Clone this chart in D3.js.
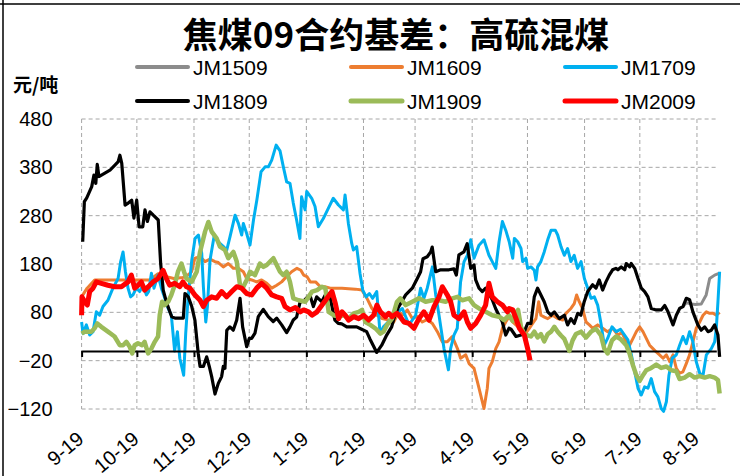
<!DOCTYPE html>
<html><head><meta charset="utf-8">
<script src="https://cdn.jsdelivr.net/npm/d3@7"></script>
<style>body{margin:0;background:#fff}svg{display:block}</style>
</head><body>
<svg id="chart" width="740" height="476"></svg>
<script>
// ---------- data ----------
const startDate = Date.UTC(2018, 8, 1); // first day of the axis
const tickLabels = ["9-19","10-19","11-19","12-19","1-19","2-19","3-19","4-19","5-19","6-19","7-19","8-19"];
const yTicks = [480, 380, 280, 180, 80, -20, -120];
const seriesNames = ["JM1509","JM1609","JM1709","JM1809","JM1909","JM2009"];
const seriesColors = ["#8C8C8C","#ED7D31","#00B0F0","#000000","#9BBB59","#FF0000"];
const seriesWidths = [3, 3, 3, 3.2, 4.5, 5];

// [day since start, basis (元/吨)]
const jm1509 = [[326.4,92],[328.2,100],[330,98],[333,96],[336.3,97],[339,116],[340.9,150],[343.6,157],[346.3,161]];
const jm1609 = [[0,112],[3,130],[7.1,147],[20,147],[37,147],[41.5,160],[45,155],[50,150],[55,152],[58,158],[59.7,164],[61.5,192],[64.3,195],[67,185],[69.7,190],[72.4,185],[74.2,183],[76.9,174],[79.6,181],[82.4,171],[85,171],[87.8,164],[89.6,150],[92.3,147],[95,143],[97.7,147],[100.5,140],[103.2,130],[105.9,136],[108.6,143],[111.3,154],[114,164],[116.9,171],[119,167],[120.5,157],[122.3,154],[124.1,143],[127,143],[129.6,133],[132,133],[135,130],[141.3,130],[148.6,128],[152.2,126],[154.9,109],[157.6,88],[160.3,74],[163.1,67],[166.7,64],[169.4,60],[172.3,81],[174.5,75],[176.8,85],[179.5,67],[182,72],[184.9,60],[187.5,65],[190.4,57],[193.1,40],[195.8,19],[198.5,19],[201.2,30],[204,5],[205.7,-15],[208.5,-8],[210.3,-26],[213,-36],[215.7,-77],[218.4,-119],[220.2,-77],[221.1,-36],[222.9,-22],[224.8,5],[226.6,19],[228.4,47],[230.2,60],[232,71],[234,60],[237.6,47],[240.3,33],[243,47],[244.8,57],[246.6,67],[248.1,102],[249.3,74],[251.2,70],[253,67],[255.7,74],[258.4,67],[261.1,64],[262.9,78],[265.6,88],[267.4,98],[268.7,116],[270.1,102],[271.9,88],[273.8,60],[275.6,54],[277.4,47],[280.1,54],[282.8,47],[285.5,40],[288.3,47],[291.1,33],[293.3,38],[295.6,19],[297.4,12],[299.3,26],[301.1,40],[302.9,50],[304.7,40],[306.5,26],[308.3,12],[310.1,5],[311.9,-2],[313.7,-8],[315.6,-15],[317.4,-8],[319.2,-22],[321,-8],[322.8,-36],[324.6,-46],[326.4,-43],[328.2,-26],[330,-8],[331.8,19],[333.6,47],[335.5,60],[337.3,74],[339.1,81],[340.9,78],[342.7,78],[344.5,74],[346.3,80]];
const jm1709 = [[0,60],[0.8,36],[2.6,54],[4.4,33],[6.2,40],[8,81],[9.8,74],[11.6,92],[14.3,105],[17,130],[19.8,150],[21.2,185],[22.5,205],[23.8,164],[25.2,130],[26.6,112],[27.9,116],[29.7,130],[31.5,123],[33.3,136],[35.2,116],[36.4,123],[37.9,161],[39.3,130],[41.5,157],[43.3,130],[45.1,110],[47,88],[48.7,74],[50.5,0],[52,40],[53.3,-15],[55.4,-50],[56.5,36],[57.8,110],[59.8,188],[61.6,233],[63.4,240],[65.2,202],[66.1,133],[67.4,60],[68.3,92],[69.7,188],[71.9,237],[74.2,226],[77,216],[78.8,209],[80.6,237],[83.3,281],[85.1,264],[86.9,240],[87.8,264],[89.6,243],[91.4,219],[93.3,271],[95.1,312],[97.4,371],[99.6,381],[101.4,381],[103.2,395],[105.6,426],[107.7,414],[109.5,381],[111.3,350],[113.1,347],[114.9,306],[116.7,271],[118.5,233],[119.4,319],[121.3,292],[122.2,330],[124.9,316],[126.7,299],[128.5,257],[131.2,274],[133.9,295],[136.6,316],[139.4,302],[142.1,292],[143,323],[144.8,264],[146.6,223],[147.5,209],[149.3,216],[151.1,161],[152.6,126],[154.4,112],[156.2,119],[158,109],[160.2,123],[162,36],[163.8,50],[165.6,57],[167.4,64],[169.2,71],[171.9,81],[174.1,88],[177.7,54],[181.3,74],[184,130],[185.8,109],[187.6,130],[190.4,174],[192.2,116],[194,74],[196.7,5],[199.1,-39],[200.3,5],[202.1,33],[203.9,47],[205.7,143],[207.6,185],[209.4,198],[211.2,230],[213,192],[215.7,219],[218.4,230],[221.1,198],[222.9,185],[224.8,171],[226.6,226],[228.4,268],[230.2,250],[232.1,226],[234,192],[234.9,233],[236.7,226],[238.5,212],[239.4,185],[241.2,192],[242.1,171],[243.9,174],[245.7,167],[246.6,147],[247.5,174],[249.3,185],[251.1,205],[253,230],[254.8,250],[257.1,250],[258.4,240],[260.2,216],[262,198],[263.8,212],[265.6,185],[267.4,198],[269.2,171],[271.1,185],[272.9,150],[274.7,130],[276.5,109],[278.3,112],[280.1,95],[281.9,57],[283.7,12],[285.5,26],[287.9,50],[290.2,40],[292.5,45],[294.7,33],[296.5,23],[298.4,-8],[300.2,-43],[302,-77],[303.8,-91],[305.6,-74],[307.4,-77],[309.2,-57],[311,-84],[312.8,-95],[314.6,-119],[315.9,-125],[317.4,-105],[318.8,-50],[320.6,-15],[322.8,-8],[324.6,12],[326.4,30],[328.2,15],[330,40],[331.8,19],[333.6,-22],[335.5,-46],[337.3,-50],[339.1,-8],[341.8,5],[343.6,19],[344.5,47],[345.4,102],[346.3,164]];
const jm1809 = [[0.6,226],[1.5,309],[2.8,317],[5.5,340],[6.7,364],[7.7,347],[8.5,386],[9.4,361],[15.4,374],[19.9,392],[20.8,405],[21.8,388],[23.6,302],[25.3,306],[27.2,312],[28.4,275],[29.9,312],[31.2,257],[33.2,257],[34.4,292],[35.7,268],[37.1,288],[38.9,281],[41.6,271],[42.9,181],[44.3,126],[46.2,99],[48.9,71],[50.7,68],[55.2,68],[56.1,119],[57.9,112],[59.8,92],[61.5,64],[63.3,-5],[64.3,-32],[66.1,-32],[67.9,-12],[69.3,-32],[70.6,-53],[72.4,-89],[74.2,-67],[76,-53],[76.9,-32],[77.8,-36],[78.8,43],[80.5,50],[82.3,43],[84.2,64],[86,109],[87.4,50],[89.6,9],[91,26],[92.3,26],[94.1,37],[95.9,71],[98.6,86],[101.3,71],[104,61],[105.9,68],[108.6,54],[111.3,38],[113.1,50],[114.9,64],[116.7,70],[118.5,100],[121.2,106],[123.9,116],[125.8,92],[127.6,112],[130.3,102],[133,121],[134.8,112],[136.3,85],[137.5,64],[139.3,57],[141.2,56],[143.9,50],[149.3,50],[152,45],[154.7,40],[156.5,25],[160.2,-3],[162.9,12],[165.6,33],[168.3,50],[170.1,75],[171.9,90],[175.9,116],[179.5,130],[182.2,150],[184,164],[185.3,191],[187.6,195],[189.5,205],[190.3,215],[192.2,164],[194.9,168],[199.4,168],[202.1,170],[203.4,157],[204.8,199],[207.5,205],[209.3,222],[211.2,171],[213,178],[213.9,147],[215.7,130],[217.5,123],[219.3,130],[221.1,119],[222.9,106],[224.7,88],[226.5,74],[228.3,61],[230.2,33],[232,47],[233.1,45],[235.8,30],[238.5,33],[240.3,40],[242.1,57],[243.9,57],[245.7,112],[247.5,130],[249.3,116],[251.1,102],[253,81],[254.8,74],[256.6,81],[259.3,67],[262,74],[263.8,54],[265.6,67],[267.4,57],[269.3,78],[271,74],[272.8,102],[274.7,123],[277.4,137],[279.2,130],[281,147],[282.8,126],[284.6,143],[286.4,157],[288.2,168],[290,171],[291.1,168],[292.9,174],[294.8,168],[295.6,181],[297.5,174],[298.3,181],[300.2,171],[302,150],[303.8,130],[305.6,123],[307.4,112],[309.2,88],[311.9,85],[314.6,85],[316.5,94],[318.3,81],[321,54],[322.8,74],[324.6,88],[326.4,92],[328.2,109],[330,106],[331.8,81],[334.5,54],[336.3,43],[338.2,50],[340,40],[341.8,43],[343.6,54],[345.4,33],[346.3,-12]];
const jm1909 = [[0,36],[1.7,40],[5.3,40],[7.1,47],[8.5,57],[10.7,50],[14.3,40],[17.9,30],[20.7,12],[22.5,12],[24.3,19],[26.1,9],[27.5,-5],[28.8,12],[30.6,16],[32.8,12],[34.2,19],[36.1,-5],[37.9,5],[39.7,19],[41.5,30],[42.4,74],[43.7,102],[45.1,95],[47,102],[48.7,116],[50.5,136],[52.3,164],[54.2,181],[55.6,164],[56.9,150],[59.7,143],[62.5,164],[64.3,205],[67,247],[68.8,267],[70.6,247],[73.3,233],[75.1,216],[77.8,209],[79.6,192],[82.4,205],[84.2,185],[86,136],[87.8,133],[89.6,147],[91.4,164],[94.1,157],[96.8,181],[98.7,174],[100.5,178],[102.3,185],[104.1,192],[105.9,178],[107.7,164],[109.5,157],[111.3,164],[113.1,143],[114.9,109],[117.8,105],[121.4,102],[123.2,112],[125.1,123],[127.8,126],[130.5,133],[132.3,130],[134.1,81],[136.8,74],[139.5,71],[142.2,74],[145,67],[147.7,78],[150.4,81],[152.2,85],[154,60],[156.7,54],[159.4,47],[162.2,36],[163.9,40],[165.8,54],[168.5,67],[171.2,102],[173,109],[175.9,95],[179.5,102],[183.1,109],[186.7,102],[190.4,105],[194,105],[197.6,102],[201.2,109],[204,112],[206.6,105],[210.3,109],[213,95],[215.7,88],[219.3,81],[222.9,74],[226.6,71],[229.3,64],[232,74],[234,62],[235.8,80],[236.9,85],[238.5,50],[240.3,35],[243.9,30],[245.7,40],[247.5,28],[249.3,35],[251.1,20],[253,35],[254.8,40],[256.6,50],[258.4,40],[260.2,32],[262,25],[264.7,0],[266.5,22],[268.3,35],[271.1,40],[273.8,28],[276.5,40],[279.2,46],[281.9,32],[283.7,5],[285.5,-5],[287.9,22],[290.1,30],[292.5,25],[295.6,12],[297.4,-5],[299.3,-30],[301.1,-50],[302.9,-62],[304.7,-50],[306.5,-40],[309.2,-35],[311.9,-28],[314.6,-35],[317.4,-32],[320.1,-40],[322.8,-42],[324.6,-58],[327.3,-55],[330,-48],[332.7,-55],[335.4,-52],[338.2,-55],[340.9,-52],[343.6,-55],[345.4,-60],[346.3,-88]];
const jm2009 = [[0,74],[0.2,112],[1.7,102],[3.1,95],[4.4,123],[6.2,130],[8,143],[10.7,140],[14.3,136],[17.9,133],[21.6,133],[25.2,143],[27,157],[28.8,130],[30.6,136],[32.4,143],[34.2,126],[37,136],[38.8,143],[41.5,150],[44.2,167],[46,150],[47.8,136],[50.5,140],[53.3,133],[55,143],[56.9,133],[58.8,130],[61.5,116],[64.3,105],[66.1,92],[67.9,105],[70.6,112],[73.3,109],[76,123],[78.7,112],[81.5,123],[84.2,133],[86.9,130],[89.6,119],[92.3,116],[95,130],[97.7,140],[100.5,130],[103.2,116],[105.9,112],[108.6,109],[110.4,92],[113.1,85],[116,90],[118.7,81],[120.5,85],[123.2,81],[125.1,74],[127.8,81],[130.5,95],[133.2,109],[135.9,123],[137.7,99],[139.5,67],[141.3,81],[143.1,74],[144.9,64],[147.7,71],[150.4,67],[153.1,74],[155.8,64],[158.5,74],[160.3,95],[162.2,81],[164.9,71],[166.7,78],[168.5,71],[171.2,78],[172.3,74],[175,60],[177.7,57],[180.4,47],[183.1,67],[185.8,81],[188.6,64],[191.3,92],[194,112],[195.8,133],[198.5,116],[200.3,102],[202.1,74],[204.8,67],[207.6,81],[209.4,60],[211.2,47],[213.9,57],[216.6,74],[219.3,95],[221.1,140],[222.9,112],[225.7,102],[228.4,95],[231.1,81],[232.1,88],[234,85],[235.8,67],[237.6,47],[240.3,33],[242.1,5],[243.4,-19]];
const seriesData = [jm1509, jm1609, jm1709, jm1809, jm1909, jm2009];

// ---------- chart ----------
const svg = d3.select("#chart");
const toDate = d => new Date(startDate + d * 864e5);
const endDate = toDate(344.5);
const x = d3.scaleUtc().domain([toDate(0), endDate]).range([81.6, 716.3]);
const y = d3.scaleLinear().domain([-120, 480]).range([409, 119]);
const monthDates = d3.utcMonth.range(toDate(0), endDate);

// frame
svg.append("path").attr("d", "M0,4H740M3,0V476").attr("stroke", "#000").attr("stroke-width", 1.5).attr("fill", "none");

// title
svg.append("text").attr("x", 396).attr("y", 48).attr("text-anchor", "middle")
  .attr("font-family", "'Noto Sans CJK SC', sans-serif").attr("font-weight", 700).attr("font-size", 35)
  .text("焦煤09合约基差：高硫混煤");

// unit
svg.append("text").attr("x", 13).attr("y", 92)
  .attr("font-family", "'Noto Sans CJK SC', sans-serif").attr("font-weight", 700).attr("font-size", 19)
  .text("元/吨");

// grid
const grid = svg.append("g").attr("stroke", "#A6A6A6").attr("stroke-width", 1).attr("stroke-dasharray", "4,3").attr("fill", "none");
grid.selectAll("line.h").data(yTicks).join("line").attr("class", "h")
  .attr("x1", x.range()[0]).attr("x2", x.range()[1]).attr("y1", d => y(d)).attr("y2", d => y(d));
grid.selectAll("line.v").data(monthDates).join("line").attr("class", "v")
  .attr("x1", d => x(d)).attr("x2", d => x(d)).attr("y1", y(480)).attr("y2", y(-120));

// y axis labels
const yAxis = svg.append("g").attr("transform", `translate(${x.range()[0]},0)`)
  .call(d3.axisLeft(y).tickValues(yTicks).tickSize(0).tickPadding(29).tickFormat(d => d < 0 ? "\u2212" + Math.abs(d) : d));
yAxis.select(".domain").remove();
yAxis.selectAll("text").attr("font-family", "'Liberation Sans', Arial, sans-serif").attr("font-size", 20).attr("fill", "#000");

// series lines
const line = d3.line().x(d => x(toDate(d[0]))).y(d => y(d[1]));
seriesData.forEach((s, i) => {
  if (i === 3) drawZeroAxis();
  svg.append("path").datum(s).attr("d", line).attr("fill", "none")
    .attr("stroke", seriesColors[i]).attr("stroke-width", seriesWidths[i])
    .attr("stroke-linejoin", "round").attr("stroke-linecap", "butt");
});

function drawZeroAxis() {
  const ax = svg.append("g").attr("transform", `translate(0,${y(0)})`)
    .call(d3.axisBottom(x).tickValues(monthDates).tickSize(6).tickSizeOuter(0).tickFormat(""));
  ax.select(".domain").attr("stroke", "#000").attr("stroke-width", 2);
  ax.selectAll(".tick line").attr("stroke", "#000").attr("stroke-width", 2);
}

// x labels (bottom)
const xl = svg.append("g").attr("transform", `translate(0,${y(-120)})`)
  .call(d3.axisBottom(x).tickValues(monthDates).tickSize(0).tickFormat((d, i) => tickLabels[i]));
xl.select(".domain").remove();
xl.selectAll("text")
  .attr("font-family", "'Liberation Sans Narrow', 'Arial Narrow', 'Liberation Sans', sans-serif")
  .attr("font-size", 20).attr("fill", "#000")
  .attr("text-anchor", "end").attr("dy", null).attr("y", 0)
  .attr("transform", "translate(3,32) rotate(-40)");

// legend
const legendPos = [[137, 67], [351, 67], [565, 67], [137, 101], [351, 101], [565, 101]];
const lg = svg.append("g");
seriesNames.forEach((n, i) => {
  const [lx, ly] = legendPos[i];
  lg.append("line").attr("x1", lx).attr("x2", lx + 51).attr("y1", ly).attr("y2", ly)
    .attr("stroke", seriesColors[i]).attr("stroke-width", i >= 4 ? 5 : 4).attr("stroke-linecap", "round");
  lg.append("text").attr("x", lx + 56).attr("y", ly + 8)
    .attr("font-family", "'Liberation Sans Narrow', 'Arial Narrow', 'Liberation Sans', sans-serif")
    .attr("font-size", 21).text(n);
});
</script>
</body></html>
